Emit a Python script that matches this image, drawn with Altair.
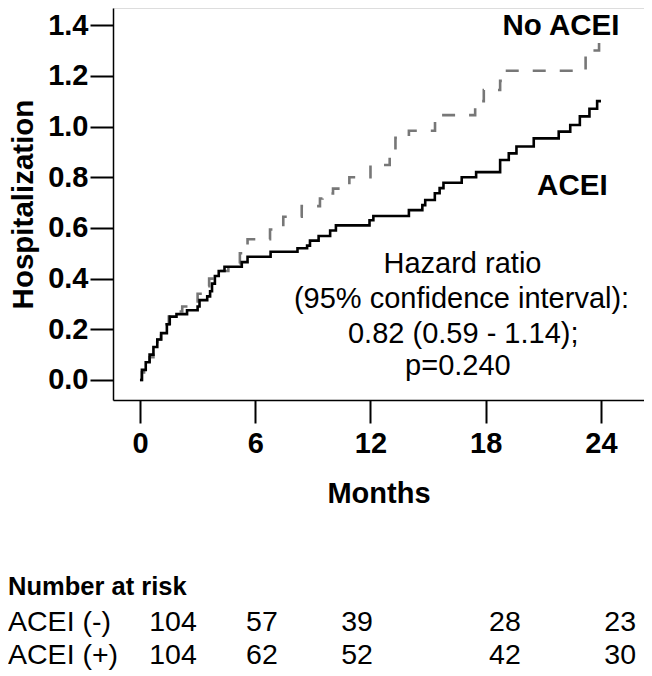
import altair as alt
import pandas as pd

# ---------------- data ----------------
acei_t = [0, 0.1, 0.3, 0.5, 0.7, 0.9, 1.1, 1.4, 1.55, 1.9, 2.45, 3.0, 3.1, 3.5, 3.65, 3.75, 3.9, 4.1, 4.4, 5.3,
          5.6, 6.8, 8.2, 8.7, 8.85, 9.3, 9.9, 10.2, 11.95, 12.15, 14.0, 14.7, 14.85, 15.35, 15.6, 15.8, 16.75, 17.5,
          18.75, 19.2, 19.6, 20.5, 21.8, 22.4, 22.9, 23.4, 23.8, 24.0]
acei_v = [0, 0.04, 0.07, 0.10, 0.13, 0.16, 0.185, 0.22, 0.25, 0.26, 0.275, 0.29, 0.315, 0.33, 0.35, 0.38, 0.41, 0.43,
          0.447, 0.465, 0.486, 0.506, 0.52, 0.53, 0.55, 0.568, 0.59, 0.61, 0.63, 0.647, 0.67, 0.69, 0.71, 0.737, 0.757,
          0.778, 0.80, 0.82, 0.868, 0.894, 0.921, 0.953, 0.98, 1.006, 1.04, 1.07, 1.10, 1.10]

noacei_t = [0, 0.1, 0.3, 0.5, 0.7, 0.9, 1.1, 1.3, 1.5, 1.8, 2.2, 2.6, 3.0, 3.3, 3.6, 4.0, 4.6, 5.2, 5.6, 6.77,
            7.46, 8.42, 9.37, 9.5, 10.05, 10.9, 12.0, 13.0, 13.3, 14.0, 15.36, 17.45, 17.9, 18.75, 19.0, 23.2, 23.4,
            23.9, 24.0]
noacei_v = [0, 0.03, 0.06, 0.09, 0.13, 0.16, 0.19, 0.22, 0.25, 0.27, 0.29, 0.31, 0.34, 0.37, 0.40, 0.43, 0.46, 0.50,
            0.555, 0.594, 0.644, 0.686, 0.716, 0.736, 0.755, 0.80, 0.848, 0.90, 0.955, 0.983, 1.045, 1.10, 1.144,
            1.18, 1.22, 1.28, 1.30, 1.35, 1.35]

x_ticks = [0, 6, 12, 18, 24]
y_ticks = [0.0, 0.2, 0.4, 0.6, 0.8, 1.0, 1.2, 1.4]

risk_groups = ["ACEI (-)", "ACEI (+)"]
risk_minus = [104, 57, 39, 28, 23]
risk_plus = [104, 62, 52, 42, 30]

hazard_lines = ["Hazard ratio", "(95% confidence interval):", "0.82 (0.59 - 1.14);", "p=0.240"]

# ---------------- layout (in data units) ----------------
X_DOM = [-1.405, 26.24]
Y_DOM = [-0.0789, 1.4675]
FONT = "Liberation Sans"

risk_cols = [1.72, 6.35, 11.3, 19.0, 25.0]   # column centres of the risk table (months axis)
risk_rows_y = [-0.99, -1.12]
risk_head_y = -0.848
left_x = -6.87

hazard_x = [16.79, 16.74, 16.83, 16.55]
hazard_y = [0.422, 0.284, 0.146, 0.0197]

xs = alt.Scale(domain=X_DOM, nice=False, zero=False)
ys = alt.Scale(domain=Y_DOM, nice=False, zero=False)

x_axis = alt.Axis(values=x_ticks, format="d", title="Months", labelFont=FONT, labelFontSize=29,
                  labelFontWeight="bold", labelColor="black", titleFont=FONT, titleFontSize=29,
                  titleFontWeight="bold", titleColor="black", tickSize=23, tickWidth=2, tickColor="black",
                  domainColor="black", domainWidth=1.5, labelPadding=6, titlePadding=21, grid=False,
                  labelFlush=False)
y_axis = alt.Axis(values=y_ticks, format=".1f", title="Hospitalization", labelFont=FONT, labelFontSize=29,
                  labelFontWeight="bold", labelColor="black", titleFont=FONT, titleFontSize=29.5,
                  titleFontWeight="bold", titleColor="black", tickSize=23, tickWidth=2, tickColor="black",
                  domainColor="black", domainWidth=1.5, labelPadding=2, titlePadding=9, grid=False,
                  labelFlush=False)

gray_line = alt.Chart(pd.DataFrame({"t": noacei_t, "v": noacei_v})).mark_line(
    interpolate="step-after", color="#777777", strokeWidth=2.6, strokeDash=[13, 14]
).encode(x=alt.X("t:Q", scale=xs, axis=x_axis), y=alt.Y("v:Q", scale=ys, axis=y_axis))

black_line = alt.Chart(pd.DataFrame({"t": acei_t, "v": acei_v})).mark_line(
    interpolate="step-after", color="black", strokeWidth=2.6
).encode(x=alt.X("t:Q", scale=xs), y=alt.Y("v:Q", scale=ys))

labels = alt.Chart(pd.DataFrame({"t": [21.92, 22.51], "v": [1.362, 0.7295], "s": ["No ACEI", "ACEI"]})).mark_text(
    font=FONT, fontSize=29.5, fontWeight="bold", color="black", align="center", baseline="alphabetic"
).encode(x=alt.X("t:Q", scale=xs), y=alt.Y("v:Q", scale=ys), text="s:N")

hazard = alt.Chart(pd.DataFrame({"t": hazard_x, "v": hazard_y, "s": hazard_lines})).mark_text(
    font=FONT, fontSize=29, color="black", align="center", baseline="alphabetic"
).encode(x=alt.X("t:Q", scale=xs), y=alt.Y("v:Q", scale=ys), text="s:N")

risk_head = alt.Chart(pd.DataFrame({"t": [left_x], "v": [risk_head_y], "s": ["Number at risk"]})).mark_text(
    font=FONT, fontSize=25.5, fontWeight="bold", color="black", align="left", baseline="alphabetic"
).encode(x=alt.X("t:Q", scale=xs), y=alt.Y("v:Q", scale=ys), text="s:N")

risk_names = alt.Chart(pd.DataFrame({"t": [left_x, left_x], "v": risk_rows_y, "s": risk_groups})).mark_text(
    font=FONT, fontSize=28.5, color="black", align="left", baseline="alphabetic"
).encode(x=alt.X("t:Q", scale=xs), y=alt.Y("v:Q", scale=ys), text="s:N")

risk_df = pd.DataFrame({
    "t": risk_cols + risk_cols,
    "v": [risk_rows_y[0]] * len(risk_minus) + [risk_rows_y[1]] * len(risk_plus),
    "n": risk_minus + risk_plus,
})
risk_nums = alt.Chart(risk_df).mark_text(
    font=FONT, fontSize=28.5, color="black", align="center", baseline="alphabetic"
).encode(x=alt.X("t:Q", scale=xs), y=alt.Y("v:Q", scale=ys), text="n:Q")

chart = alt.layer(gray_line, black_line, labels, hazard, risk_head, risk_names, risk_nums).properties(
    width=531, height=392,
    autosize=alt.AutoSizeParams(type="none"),
    padding={"left": 105, "top": 0, "right": 0, "bottom": 276},
).configure_view(strokeWidth=0).configure(background="white")

chart.save("out.html", embed_options={"renderer": "svg", "actions": False})
